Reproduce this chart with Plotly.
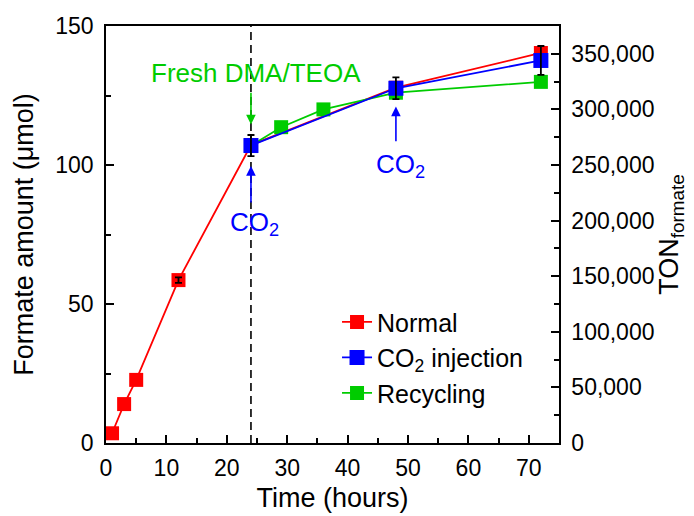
import plotly.graph_objects as go

# ---- data ----
normal_t = [1, 3, 5, 12, 24, 48, 72]
normal_y = [3.5, 14, 22.7, 58.6, 107.2, 127.8, 140.3]
normal_err = [0, 0, 0, 1.0, 0, 0, 0]

co2_t = [24, 48, 72]
co2_y = [107.0, 127.6, 137.6]
co2_err = [3.8, 3.9, 5.2]

recyc_t = [24, 29, 36, 48, 72]
recyc_y = [107.0, 113.6, 120.0, 126.0, 129.9]

FONT = "Arial, Liberation Sans, sans-serif"
RED = "#ff0000"
BLUE = "#0000ff"
GREEN = "#00cc00"

fig = go.Figure()

fig.add_trace(go.Scatter(x=normal_t, y=normal_y, mode="lines+markers", name="Normal",
                         line=dict(color=RED, width=1.8),
                         marker=dict(symbol="square", size=14, color=RED),
                         legendgroup="a", legendrank=1))
fig.add_trace(go.Scatter(x=recyc_t, y=recyc_y, mode="lines+markers", name="Recycling",
                         line=dict(color=GREEN, width=1.8),
                         marker=dict(symbol="square", size=14, color=GREEN),
                         legendgroup="c", legendrank=3))
fig.add_trace(go.Scatter(x=co2_t, y=co2_y, mode="lines+markers", name="CO<sub>2</sub> injection",
                         line=dict(color=BLUE, width=1.8),
                         marker=dict(symbol="square", size=15, color=BLUE),
                         legendgroup="b", legendrank=2))

# error bars drawn on top (only where an error is given)
def err_points(t, y, e):
    idx = [i for i, v in enumerate(e) if v > 0]
    return [t[i] for i in idx], [y[i] for i in idx], [e[i] for i in idx]

for t, y, e in (err_points(normal_t, normal_y, normal_err), err_points(co2_t, co2_y, co2_err)):
    fig.add_trace(go.Scatter(x=t, y=y, mode="markers", showlegend=False,
                             marker=dict(size=1, color="rgba(0,0,0,0)"),
                             error_y=dict(type="data", array=e, color="black",
                                          thickness=1.8, width=3.5), hoverinfo="skip"))

# dummy trace for right axis
fig.add_trace(go.Scatter(x=[None], y=[None], yaxis="y2", showlegend=False))

# dashed line at t = 24
fig.add_shape(type="line", xref="x", yref="paper", x0=24, x1=24, y0=0, y1=1,
              line=dict(color="black", width=1.6, dash="8px,5px"), layer="below")

ANN = 26
fig.add_annotation(x=24, y=114.6, ax=24, ay=126.5, xref="x", yref="y", axref="x", ayref="y",
                   showarrow=True, arrowhead=2, arrowsize=1.2, arrowwidth=1.6, arrowcolor=GREEN, text="")
fig.add_annotation(x=24.8, y=133.0, xref="x", yref="y", text="Fresh DMA/TEOA", showarrow=False,
                   font=dict(family=FONT, size=ANN, color=GREEN))
fig.add_annotation(x=24, y=99.6, ax=24, ay=86, xref="x", yref="y", axref="x", ayref="y",
                   showarrow=True, arrowhead=2, arrowsize=1.2, arrowwidth=1.6, arrowcolor=BLUE, text="")
fig.add_annotation(x=24.6, y=79.0, xref="x", yref="y", text="CO<sub>2</sub>", showarrow=False,
                   font=dict(family=FONT, size=ANN, color=BLUE))
fig.add_annotation(x=48, y=121, ax=48, ay=108, xref="x", yref="y", axref="x", ayref="y",
                   showarrow=True, arrowhead=2, arrowsize=1.2, arrowwidth=1.6, arrowcolor=BLUE, text="")
fig.add_annotation(x=48.8, y=100.0, xref="x", yref="y", text="CO<sub>2</sub>", showarrow=False,
                   font=dict(family=FONT, size=ANN, color=BLUE))

TICK = 23
TITLE = 27
axis_common = dict(showline=True, linecolor="black", linewidth=1.5, ticks="inside",
                   ticklen=8, tickwidth=1.5, tickcolor="black", showgrid=False, zeroline=False,
                   automargin=False,
                   tickfont=dict(family=FONT, size=TICK, color="black"))

fig.update_layout(
    width=694, height=516,
    margin=dict(l=106, r=135, t=26, b=73),
    paper_bgcolor="white", plot_bgcolor="white",
    font=dict(family=FONT, size=TICK, color="black"),
    xaxis=dict(range=[0, 75], dtick=10, tick0=0, mirror=True,
               minor=dict(dtick=5, ticks="inside", ticklen=5, tickwidth=1.5, tickcolor="black"),
               title=dict(text="Time (hours)", font=dict(family=FONT, size=TITLE), standoff=8),
               ticklabelstandoff=4, **axis_common),
    yaxis=dict(range=[0, 150], dtick=50, tick0=0,
               minor=dict(dtick=25, ticks="inside", ticklen=5, tickwidth=1.5, tickcolor="black"),
               title=dict(text="Formate amount (\u03bcmol)", font=dict(family=FONT, size=TITLE), standoff=14),
               ticklabelstandoff=6, **axis_common),
    yaxis2=dict(range=[0, 375000], dtick=50000, tick0=0, overlaying="y", side="right",
                tickformat=",d",
                minor=dict(dtick=25000, ticks="inside", ticklen=5, tickwidth=1.5, tickcolor="black"),
                title=dict(text="TON<sub>formate</sub>", font=dict(family=FONT, size=TITLE), standoff=6),
                ticklabelstandoff=6, **axis_common),
    legend=dict(x=0.51, y=0.345, xanchor="left", yanchor="top", bgcolor="rgba(0,0,0,0)",
                font=dict(family=FONT, size=25), tracegroupgap=0),
    showlegend=True,
)

fig.write_html("out.html")
